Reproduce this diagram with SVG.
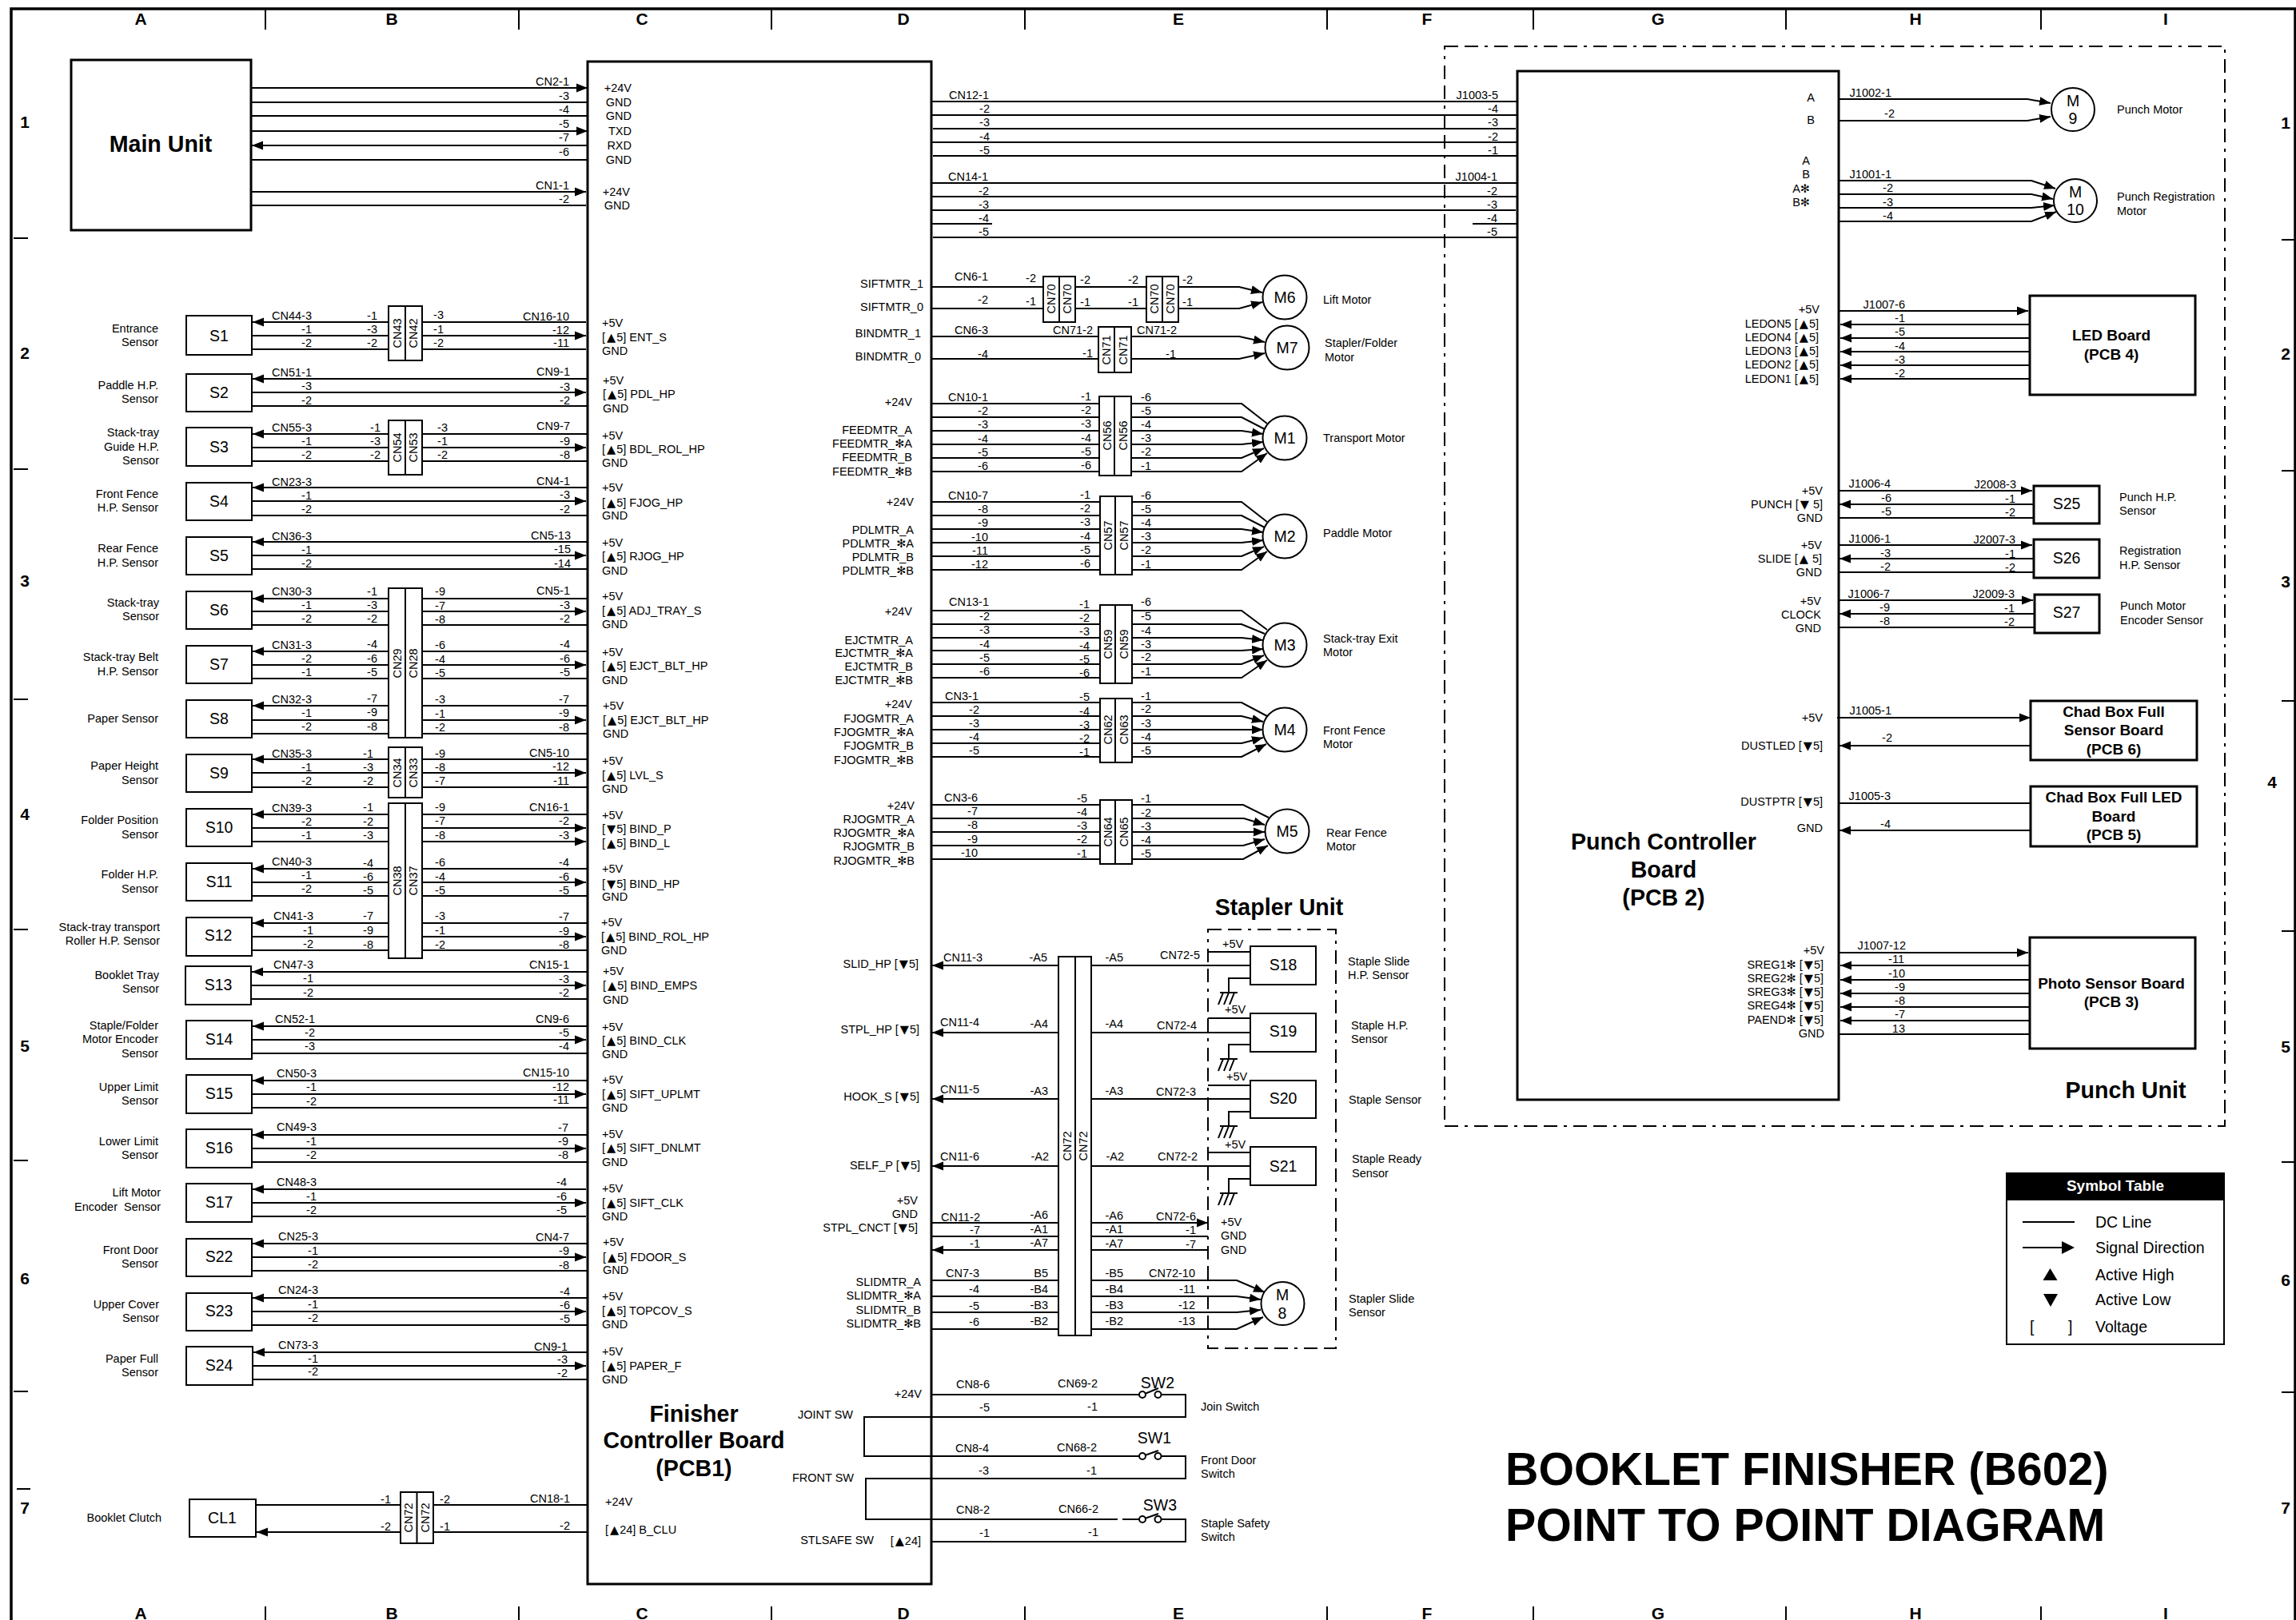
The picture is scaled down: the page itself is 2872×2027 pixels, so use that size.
<svg xmlns="http://www.w3.org/2000/svg" width="2872" height="2027" viewBox="0 0 2872 2027">
<style>
text{font-family:"Liberation Sans","DejaVu Sans",sans-serif;font-size:14.5px;fill:#000}
.e text,text.e{text-anchor:end}
.m,.v{text-anchor:middle}
.s{font-size:19.5px;text-anchor:middle}
.h{font-size:19px;font-weight:bold;text-anchor:middle}
.t{font-size:28.6px;font-weight:bold;text-anchor:middle}
.f{font-size:21px;font-weight:bold;text-anchor:middle}
.y{font-size:57.3px;font-weight:bold}
.l{font-size:19.5px}
.x{font-family:"DejaVu Sans",sans-serif;letter-spacing:1px}
.w,#connectors path{fill:none;stroke:#000;stroke-width:2}
.a{marker-end:url(#a)}
.n{fill:#fff;stroke:#000;stroke-width:2}
.k{fill:#fff;stroke:#000;stroke-width:3}
.p{fill:none;stroke:#000;stroke-width:2}
.d{fill:none;stroke:#000;stroke-width:2;stroke-dasharray:17 8 17 8 4 8}
</style>
<defs>
<marker id="a" markerUnits="userSpaceOnUse" markerWidth="15" markerHeight="12" refX="14" refY="6" orient="auto" viewBox="0 0 15 12"><path d="M0 0.5L14 6L0 11.5Z"/></marker>
<path id="gnd" class="w" d="M0 0H-27V18M-38 18H-16M-27 18L-33 33M-20 18L-26 33M-34 18L-40 33"/>
</defs>
<rect width="2872" height="2027" fill="#fff"/>
<g id="frame">
<path fill="none" stroke="#000" stroke-width="3.5" d="M14 2027V11H2871V2027"/>
<path fill="none" stroke="#000" stroke-width="2" d="M332 11V37M649 11V37M965 11V37M1282 11V37M1660 11V37M1918 11V37M2234 11V37M2553 11V37M332 2010V2027M649 2010V2027M965 2010V2027M1282 2010V2027M1660 2010V2027M1918 2010V2027M2234 2010V2027M2553 2010V2027M17 298H35M17 587H35M17 875H35M17 1163H35M17 1452H35M17 1741H35M21 1863H38M2854 300H2871M2854 589H2871M2854 877H2871M2854 1165H2871M2854 1454H2871M2854 1742H2871"/>
<text class="f" x="176" y="31">A</text><text class="f" x="490" y="31">B</text><text class="f" x="803" y="31">C</text><text class="f" x="1130" y="31">D</text><text class="f" x="1474" y="31">E</text><text class="f" x="1785" y="31">F</text><text class="f" x="2074" y="31">G</text><text class="f" x="2396" y="31">H</text><text class="f" x="2709" y="31">I</text>
<text class="f" x="176" y="2026">A</text><text class="f" x="490" y="2026">B</text><text class="f" x="803" y="2026">C</text><text class="f" x="1130" y="2026">D</text><text class="f" x="1474" y="2026">E</text><text class="f" x="1785" y="2026">F</text><text class="f" x="2074" y="2026">G</text><text class="f" x="2396" y="2026">H</text><text class="f" x="2709" y="2026">I</text>
<text class="f" x="31" y="160">1</text><text class="f" x="31" y="449">2</text><text class="f" x="31" y="734">3</text><text class="f" x="31" y="1026">4</text><text class="f" x="31" y="1316">5</text><text class="f" x="31" y="1607">6</text><text class="f" x="31" y="1894">7</text>
<text class="f" x="2859" y="161">1</text><text class="f" x="2859" y="450">2</text><text class="f" x="2859" y="735">3</text><text class="f" x="2842" y="986">4</text><text class="f" x="2859" y="1317">5</text><text class="f" x="2859" y="1609">6</text><text class="f" x="2859" y="1894">7</text>
</g>
<g id="connectors">
<path class="a" d="M315 110H735"/><path d="M315 128H735"/><path d="M315 145H735"/><path class="a" d="M315 164H735"/><path class="a" d="M735 182H315"/><path d="M315 200H735"/><path class="a" d="M315 240H733"/><path d="M315 257H733"/>
<path class="a" d="M733 403H316"/><path class="a" d="M316 420H733"/><path d="M316 437H733"/>
<path class="a" d="M735 474H316"/><path class="a" d="M316 491H733"/><path d="M316 508H735"/>
<path class="a" d="M735 543H316"/><path class="a" d="M316 560H733"/><path d="M316 577H735"/>
<path class="a" d="M735 610H316"/><path class="a" d="M316 627H733"/><path d="M316 645H735"/>
<path class="a" d="M735 678H316"/><path class="a" d="M316 695H733"/><path d="M316 712H735"/>
<path class="a" d="M735 749H316"/><path class="a" d="M316 765H733"/><path d="M316 782H735"/>
<path class="a" d="M735 815H316"/><path class="a" d="M316 832H733"/><path d="M316 849H735"/>
<path class="a" d="M735 883H316"/><path class="a" d="M316 901H733"/><path d="M316 918H735"/>
<path class="a" d="M735 950H316"/><path class="a" d="M316 967H733"/><path d="M316 985H735"/>
<path class="a" d="M735 1019H316"/><path class="a" d="M316 1036H733"/><path class="a" d="M316 1053H733"/>
<path class="a" d="M735 1087H316"/><path class="a" d="M316 1104H733"/><path d="M316 1121H735"/>
<path class="a" d="M735 1155H316"/><path class="a" d="M316 1172H733"/><path d="M316 1189H735"/>
<path class="a" d="M735 1216H315"/><path class="a" d="M315 1233H733"/><path d="M315 1250H735"/>
<path class="a" d="M735 1284H316"/><path class="a" d="M316 1301H733"/><path d="M316 1318H735"/>
<path class="a" d="M735 1352H316"/><path class="a" d="M316 1369H733"/><path d="M316 1386H735"/>
<path class="a" d="M735 1420H316"/><path class="a" d="M316 1437H733"/><path d="M316 1454H735"/>
<path class="a" d="M733 1488H316"/><path class="a" d="M316 1505H733"/><path d="M316 1522H733"/>
<path class="a" d="M735 1556H316"/><path class="a" d="M316 1573H733"/><path d="M316 1590H735"/>
<path class="a" d="M735 1624H316"/><path class="a" d="M316 1641H733"/><path d="M316 1658H735"/>
<path class="a" d="M735 1692H317"/><path class="a" d="M317 1709H733"/><path d="M317 1726H735"/>
<path d="M320 1883H735"/><path class="a" d="M735 1917H321"/>
<path d="M1165 127H1898M1165 144H1898M1167 161H1896M1165 178H1898M1167 195H1898"/>
<path d="M1165 229H1898M1165 246H1898M1165 263H1896M1165 280H1241M1842 280H1898M1167 297H1898"/>
<path class="a" d="M1165 359H1550L1579 366"/><path class="a" d="M1165 386H1550L1579 378"/>
<path class="a" d="M1165 421H1550L1582 428"/><path class="a" d="M1165 449H1550L1582 442"/>
<path d="M1165 505H1553L1585 530"/><path d="M1165 522H1553L1582 537"/><path class="a" d="M1165 539H1553L1580 543"/><path class="a" d="M1165 556H1553L1580 553"/><path class="a" d="M1165 573H1553L1581 561"/><path class="a" d="M1165 590H1553L1585 567"/>
<path d="M1165 628H1553L1585 653"/><path d="M1165 645H1553L1582 660"/><path class="a" d="M1165 662H1553L1580 666"/><path class="a" d="M1165 679H1553L1580 676"/><path class="a" d="M1165 696H1553L1581 684"/><path class="a" d="M1165 713H1553L1585 690"/>
<path d="M1165 764H1553L1585 788"/><path d="M1165 781H1553L1582 793"/><path class="a" d="M1165 798H1553L1580 801"/><path class="a" d="M1165 814H1553L1580 812"/><path class="a" d="M1165 831H1553L1581 820"/><path class="a" d="M1165 848H1553L1585 826"/>
<path d="M1165 879H1553L1585 896"/><path class="a" d="M1165 896H1553L1580 903"/><path class="a" d="M1165 913H1580"/><path class="a" d="M1165 930H1553L1580 923"/><path class="a" d="M1165 947H1553L1584 931"/>
<path d="M1165 1007H1555L1587 1023"/><path class="a" d="M1165 1024H1556L1582 1032"/><path class="a" d="M1165 1041H1582"/><path class="a" d="M1165 1058H1555L1582 1050"/><path class="a" d="M1165 1075H1555L1586 1058"/>
<path class="a" d="M1564 1208H1166"/><path class="a" d="M1564 1292H1166"/><path class="a" d="M1564 1375H1166"/><path class="a" d="M1564 1459H1166"/>
<path d="M1511 1191H1564M1511 1274H1564M1511 1358H1564M1511 1442H1564"/>
<path class="a" d="M1165 1530H1511"/><path d="M1165 1547H1511"/><path class="a" d="M1511 1564H1166"/>
<path class="a" d="M1165 1602H1547L1582 1617"/><path class="a" d="M1165 1622H1547L1577 1626"/><path class="a" d="M1165 1642H1547L1577 1639"/><path class="a" d="M1165 1663H1547L1580 1648"/>
<use href="#gnd" x="1564" y="1224"/><use href="#gnd" x="1564" y="1307"/><use href="#gnd" x="1564" y="1391"/><use href="#gnd" x="1564" y="1475"/>
<path d="M1165 1745H1425M1453 1745H1483V1773H1165"/><path d="M1165 1773H1081V1822H1165"/>
<path d="M1165 1822H1425M1453 1822H1483V1850H1165"/><path d="M1165 1850H1083V1901H1165"/>
<path d="M1165 1901H1398M1404 1901H1425M1453 1901H1483V1929H1165"/>
<path class="a" d="M2300 124H2536L2565 129"/><path class="a" d="M2300 151H2536L2565 146"/>
<path class="a" d="M2300 226H2541L2571 236"/><path class="a" d="M2300 243H2541L2568 249"/><path class="a" d="M2300 260H2541L2570 257"/><path class="a" d="M2300 277H2541L2572 265"/>
<path class="a" d="M2300 389H2537"/><path class="a" d="M2539 406H2302"/><path class="a" d="M2539 423H2302"/><path class="a" d="M2539 440H2302"/><path class="a" d="M2539 457H2302"/><path class="a" d="M2539 474H2302"/>
<path class="a" d="M2300 614H2542"/><path class="a" d="M2544 631H2301"/><path d="M2300 648H2544"/>
<path class="a" d="M2300 682H2542"/><path class="a" d="M2544 699H2301"/><path d="M2300 716H2544"/>
<path class="a" d="M2300 751H2543"/><path class="a" d="M2545 768H2301"/><path d="M2300 785H2545"/>
<path class="a" d="M2298 898H2540"/><path class="a" d="M2540 933H2301"/>
<path d="M2300 1005H2540"/><path class="a" d="M2540 1039H2301"/>
<path class="a" d="M2300 1192H2537"/><path class="a" d="M2539 1208H2302"/><path class="a" d="M2539 1226H2302"/><path class="a" d="M2539 1243H2302"/><path class="a" d="M2539 1260H2302"/><path class="a" d="M2539 1277H2302"/><path d="M2300 1294H2539"/>
</g>
<g id="wire-labels" class="e">
<text x="712" y="107">CN2-1</text><text x="712" y="125">-3</text><text x="712" y="142">-4</text><text x="712" y="160">-5</text><text x="712" y="177">-7</text><text x="712" y="195">-6</text><text x="712" y="237">CN1-1</text><text x="712" y="254">-2</text>
<text x="390" y="400">CN44-3</text><text x="390" y="417">-1</text><text x="390" y="434">-2</text><text x="472" y="400">-1</text><text x="472" y="417">-3</text><text x="472" y="434">-2</text><text x="555" y="399">-3</text><text x="555" y="417">-1</text><text x="555" y="434">-2</text><text x="712" y="401">CN16-10</text><text x="712" y="418">-12</text><text x="712" y="434">-11</text>
<text x="390" y="471">CN51-1</text><text x="390" y="488">-3</text><text x="390" y="506">-2</text><text x="713" y="470">CN9-1</text><text x="713" y="489">-3</text><text x="713" y="506">-2</text>
<text x="390" y="540">CN55-3</text><text x="390" y="557">-1</text><text x="390" y="574">-2</text><text x="476" y="540">-1</text><text x="476" y="557">-3</text><text x="476" y="574">-2</text><text x="560" y="540">-3</text><text x="560" y="557">-1</text><text x="560" y="574">-2</text><text x="713" y="538">CN9-7</text><text x="713" y="557">-9</text><text x="713" y="574">-8</text>
<text x="390" y="608">CN23-3</text><text x="390" y="625">-1</text><text x="390" y="642">-2</text><text x="713" y="607">CN4-1</text><text x="713" y="624">-3</text><text x="713" y="642">-2</text>
<text x="390" y="676">CN36-3</text><text x="390" y="693">-1</text><text x="390" y="710">-2</text><text x="714" y="675">CN5-13</text><text x="714" y="692">-15</text><text x="714" y="710">-14</text>
<text x="390" y="745">CN30-3</text><text x="390" y="762">-1</text><text x="390" y="779">-2</text><text x="472" y="745">-1</text><text x="472" y="762">-3</text><text x="472" y="779">-2</text><text x="557" y="745">-9</text><text x="557" y="763">-7</text><text x="557" y="780">-8</text><text x="713" y="744">CN5-1</text><text x="713" y="762">-3</text><text x="713" y="779">-2</text>
<text x="390" y="812">CN31-3</text><text x="390" y="829">-2</text><text x="390" y="846">-1</text><text x="472" y="811">-4</text><text x="472" y="829">-6</text><text x="472" y="846">-5</text><text x="557" y="812">-6</text><text x="557" y="830">-4</text><text x="557" y="847">-5</text><text x="713" y="811">-4</text><text x="713" y="829">-6</text><text x="713" y="846">-5</text>
<text x="390" y="880">CN32-3</text><text x="390" y="897">-1</text><text x="390" y="914">-2</text><text x="472" y="879">-7</text><text x="472" y="896">-9</text><text x="472" y="914">-8</text><text x="557" y="880">-3</text><text x="557" y="898">-1</text><text x="557" y="915">-2</text><text x="712" y="880">-7</text><text x="712" y="897">-9</text><text x="712" y="915">-8</text>
<text x="390" y="948">CN35-3</text><text x="390" y="965">-1</text><text x="390" y="982">-2</text><text x="467" y="948">-1</text><text x="467" y="965">-3</text><text x="467" y="982">-2</text><text x="557" y="948">-9</text><text x="557" y="965">-8</text><text x="557" y="982">-7</text><text x="712" y="947">CN5-10</text><text x="712" y="964">-12</text><text x="712" y="982">-11</text>
<text x="390" y="1016">CN39-3</text><text x="390" y="1033">-2</text><text x="390" y="1050">-1</text><text x="467" y="1015">-1</text><text x="467" y="1033">-2</text><text x="467" y="1050">-3</text><text x="557" y="1015">-9</text><text x="557" y="1032">-7</text><text x="557" y="1050">-8</text><text x="712" y="1015">CN16-1</text><text x="712" y="1032">-2</text><text x="712" y="1050">-3</text>
<text x="390" y="1083">CN40-3</text><text x="390" y="1100">-1</text><text x="390" y="1117">-2</text><text x="467" y="1085">-4</text><text x="467" y="1102">-6</text><text x="467" y="1119">-5</text><text x="557" y="1084">-6</text><text x="557" y="1102">-4</text><text x="557" y="1119">-5</text><text x="712" y="1084">-4</text><text x="712" y="1102">-6</text><text x="712" y="1119">-5</text>
<text x="392" y="1151">CN41-3</text><text x="392" y="1169">-1</text><text x="392" y="1186">-2</text><text x="467" y="1151">-7</text><text x="467" y="1169">-9</text><text x="467" y="1187">-8</text><text x="557" y="1151">-3</text><text x="557" y="1169">-1</text><text x="557" y="1187">-2</text><text x="712" y="1152">-7</text><text x="712" y="1170">-9</text><text x="712" y="1187">-8</text>
<text x="392" y="1212">CN47-3</text><text x="392" y="1229">-1</text><text x="392" y="1247">-2</text><text x="712" y="1212">CN15-1</text><text x="712" y="1230">-3</text><text x="712" y="1247">-2</text>
<text x="394" y="1280">CN52-1</text><text x="394" y="1297">-2</text><text x="394" y="1314">-3</text><text x="712" y="1280">CN9-6</text><text x="712" y="1297">-5</text><text x="712" y="1314">-4</text>
<text x="396" y="1348">CN50-3</text><text x="396" y="1365">-1</text><text x="396" y="1383">-2</text><text x="712" y="1347">CN15-10</text><text x="712" y="1365">-12</text><text x="712" y="1381">-11</text>
<text x="396" y="1415">CN49-3</text><text x="396" y="1433">-1</text><text x="396" y="1450">-2</text><text x="711" y="1416">-7</text><text x="711" y="1433">-9</text><text x="711" y="1450">-8</text>
<text x="396" y="1484">CN48-3</text><text x="396" y="1502">-1</text><text x="396" y="1519">-2</text><text x="709" y="1484">-4</text><text x="709" y="1502">-6</text><text x="709" y="1519">-5</text>
<text x="398" y="1552">CN25-3</text><text x="398" y="1570">-1</text><text x="398" y="1587">-2</text><text x="712" y="1553">CN4-7</text><text x="712" y="1570">-9</text><text x="712" y="1588">-8</text>
<text x="398" y="1619">CN24-3</text><text x="398" y="1637">-1</text><text x="398" y="1654">-2</text><text x="713" y="1621">-4</text><text x="713" y="1638">-6</text><text x="713" y="1655">-5</text>
<text x="398" y="1688">CN73-3</text><text x="398" y="1705">-1</text><text x="398" y="1721">-2</text><text x="710" y="1690">CN9-1</text><text x="710" y="1706">-3</text><text x="710" y="1723">-2</text>
<text x="489" y="1881">-1</text><text x="489" y="1915">-2</text><text x="563" y="1881">-2</text><text x="563" y="1915">-1</text><text x="713" y="1880">CN18-1</text><text x="713" y="1914">-2</text>
<text x="1237" y="124">CN12-1</text><text x="1238" y="141">-2</text><text x="1238" y="158">-3</text><text x="1238" y="176">-4</text><text x="1238" y="193">-5</text><text x="1874" y="124">J1003-5</text><text x="1874" y="141">-4</text><text x="1874" y="158">-3</text><text x="1874" y="176">-2</text><text x="1874" y="193">-1</text>
<text x="1236" y="226">CN14-1</text><text x="1237" y="244">-2</text><text x="1237" y="261">-3</text><text x="1237" y="278">-4</text><text x="1237" y="295">-5</text><text x="1873" y="226">J1004-1</text><text x="1873" y="244">-2</text><text x="1873" y="261">-3</text><text x="1873" y="278">-4</text><text x="1873" y="295">-5</text>
<text x="1236" y="351">CN6-1</text><text x="1236" y="380">-2</text><text x="1296" y="353">-2</text><text x="1296" y="382">-1</text><text x="1364" y="355">-2</text><text x="1364" y="383">-1</text><text x="1424" y="355">-2</text><text x="1424" y="383">-1</text><text x="1492" y="355">-2</text><text x="1492" y="383">-1</text>
<text x="1236" y="418">CN6-3</text><text x="1236" y="448">-4</text><text x="1367" y="418">CN71-2</text><text x="1367" y="447">-1</text><text x="1472" y="418">CN71-2</text><text x="1471" y="448">-1</text>
<text x="1236" y="502">CN10-1</text><text x="1236" y="519">-2</text><text x="1236" y="536">-3</text><text x="1236" y="554">-4</text><text x="1236" y="571">-5</text><text x="1236" y="588">-6</text><text x="1365" y="501">-1</text><text x="1365" y="518">-2</text><text x="1365" y="535">-3</text><text x="1365" y="553">-4</text><text x="1365" y="570">-5</text><text x="1365" y="587">-6</text><text x="1440" y="502">-6</text><text x="1440" y="519">-5</text><text x="1440" y="536">-4</text><text x="1440" y="553">-3</text><text x="1440" y="570">-2</text><text x="1440" y="588">-1</text>
<text x="1236" y="625">CN10-7</text><text x="1236" y="642">-8</text><text x="1236" y="659">-9</text><text x="1236" y="677">-10</text><text x="1236" y="694">-11</text><text x="1236" y="711">-12</text><text x="1364" y="624">-1</text><text x="1364" y="641">-2</text><text x="1364" y="658">-3</text><text x="1364" y="676">-4</text><text x="1364" y="693">-5</text><text x="1364" y="710">-6</text><text x="1440" y="625">-6</text><text x="1440" y="642">-5</text><text x="1440" y="659">-4</text><text x="1440" y="676">-3</text><text x="1440" y="693">-2</text><text x="1440" y="711">-1</text>
<text x="1237" y="758">CN13-1</text><text x="1238" y="776">-2</text><text x="1238" y="793">-3</text><text x="1238" y="811">-4</text><text x="1238" y="828">-5</text><text x="1238" y="845">-6</text><text x="1363" y="761">-1</text><text x="1363" y="778">-2</text><text x="1363" y="795">-3</text><text x="1363" y="813">-4</text><text x="1363" y="830">-5</text><text x="1363" y="847">-6</text><text x="1440" y="758">-6</text><text x="1440" y="776">-5</text><text x="1440" y="794">-4</text><text x="1440" y="811">-3</text><text x="1440" y="827">-2</text><text x="1440" y="845">-1</text>
<text x="1224" y="876">CN3-1</text><text x="1225" y="893">-2</text><text x="1225" y="910">-3</text><text x="1225" y="927">-4</text><text x="1225" y="944">-5</text><text x="1363" y="877">-5</text><text x="1363" y="895">-4</text><text x="1363" y="912">-3</text><text x="1363" y="929">-2</text><text x="1363" y="946">-1</text><text x="1440" y="876">-1</text><text x="1440" y="892">-2</text><text x="1440" y="910">-3</text><text x="1440" y="927">-4</text><text x="1440" y="944">-5</text>
<text x="1223" y="1003">CN3-6</text><text x="1223" y="1020">-7</text><text x="1223" y="1037">-8</text><text x="1223" y="1055">-9</text><text x="1223" y="1072">-10</text><text x="1360" y="1004">-5</text><text x="1360" y="1021">-4</text><text x="1360" y="1038">-3</text><text x="1360" y="1055">-2</text><text x="1360" y="1073">-1</text><text x="1440" y="1004">-1</text><text x="1440" y="1022">-2</text><text x="1440" y="1039">-3</text><text x="1440" y="1056">-4</text><text x="1440" y="1073">-5</text>
<text x="1229" y="1203">CN11-3</text><text x="1225" y="1284">CN11-4</text><text x="1225" y="1368">CN11-5</text><text x="1225" y="1452">CN11-6</text><text x="1226" y="1528">CN11-2</text><text x="1226" y="1544">-7</text><text x="1226" y="1561">-1</text><text x="1225" y="1598">CN7-3</text><text x="1225" y="1618">-4</text><text x="1225" y="1639">-5</text><text x="1225" y="1659">-6</text>
<text x="1310" y="1203">-A5</text><text x="1311" y="1286">-A4</text><text x="1311" y="1370">-A3</text><text x="1312" y="1452">-A2</text><text x="1311" y="1525">-A6</text><text x="1311" y="1543">-A1</text><text x="1311" y="1560">-A7</text><text x="1311" y="1598">B5</text><text x="1311" y="1618">-B4</text><text x="1311" y="1638">-B3</text><text x="1311" y="1658">-B2</text>
<text x="1405" y="1203">-A5</text><text x="1405" y="1286">-A4</text><text x="1405" y="1370">-A3</text><text x="1406" y="1452">-A2</text><text x="1405" y="1526">-A6</text><text x="1405" y="1543">-A1</text><text x="1405" y="1561">-A7</text><text x="1405" y="1598">-B5</text><text x="1405" y="1618">-B4</text><text x="1405" y="1638">-B3</text><text x="1405" y="1658">-B2</text>
<text x="1501" y="1200">CN72-5</text><text x="1497" y="1288">CN72-4</text><text x="1496" y="1371">CN72-3</text><text x="1498" y="1452">CN72-2</text><text x="1496" y="1527">CN72-6</text><text x="1496" y="1544">-1</text><text x="1496" y="1562">-7</text><text x="1495" y="1598">CN72-10</text><text x="1495" y="1618">-11</text><text x="1495" y="1638">-12</text><text x="1495" y="1658">-13</text>
<text x="1238" y="1737">CN8-6</text><text x="1238" y="1766">-5</text><text x="1373" y="1736">CN69-2</text><text x="1373" y="1765">-1</text><text x="1237" y="1817">CN8-4</text><text x="1237" y="1845">-3</text><text x="1372" y="1816">CN68-2</text><text x="1372" y="1845">-1</text><text x="1238" y="1894">CN8-2</text><text x="1238" y="1923">-1</text><text x="1374" y="1893">CN66-2</text><text x="1374" y="1922">-1</text>
<text x="2366" y="121">J1002-1</text><text x="2370" y="147">-2</text><text x="2366" y="223">J1001-1</text><text x="2368" y="240">-2</text><text x="2368" y="258">-3</text><text x="2368" y="275">-4</text>
<text x="2383" y="386">J1007-6</text><text x="2383" y="403">-1</text><text x="2383" y="420">-5</text><text x="2383" y="438">-4</text><text x="2383" y="455">-3</text><text x="2383" y="472">-2</text>
<text x="2365" y="610">J1006-4</text><text x="2366" y="628">-6</text><text x="2366" y="645">-5</text><text x="2522" y="611">J2008-3</text><text x="2521" y="629">-1</text><text x="2521" y="646">-2</text>
<text x="2365" y="679">J1006-1</text><text x="2365" y="697">-3</text><text x="2365" y="714">-2</text><text x="2521" y="680">J2007-3</text><text x="2521" y="698">-1</text><text x="2521" y="715">-2</text>
<text x="2364" y="748">J1006-7</text><text x="2364" y="765">-9</text><text x="2364" y="782">-8</text><text x="2520" y="748">J2009-3</text><text x="2520" y="766">-1</text><text x="2520" y="783">-2</text>
<text x="2366" y="894">J1005-1</text><text x="2367" y="928">-2</text><text x="2365" y="1001">J1005-3</text><text x="2365" y="1036">-4</text>
<text x="2384" y="1188">J1007-12</text><text x="2382" y="1205">-11</text><text x="2383" y="1223">-10</text><text x="2383" y="1240">-9</text><text x="2383" y="1257">-8</text><text x="2383" y="1274">-7</text><text x="2383" y="1292">13</text>
</g>
<g id="MainUnit"><rect class="k" x="89" y="75" width="225" height="213"/><text class="t" x="201" y="190">Main Unit</text></g>
<g id="FinisherBoard"><rect class="p" style="stroke-width:3" x="735" y="77" width="430" height="1905"/>
<g class="e"><text x="790" y="115">+24V</text><text x="790" y="133">GND</text><text x="790" y="150">GND</text><text x="790" y="169">TXD</text><text x="790" y="187">RXD</text><text x="790" y="205">GND</text><text x="788" y="245">+24V</text><text x="788" y="262">GND</text></g>
<text x="753" y="409">+5V</text><text x="753" y="427">[<tspan class="x" dx="2">▲</tspan>5] ENT_S</text><text x="753" y="444">GND</text>
<text x="754" y="481">+5V</text><text x="754" y="498">[<tspan class="x" dx="2">▲</tspan>5] PDL_HP</text><text x="754" y="516">GND</text>
<text x="753" y="550">+5V</text><text x="753" y="567">[<tspan class="x" dx="2">▲</tspan>5] BDL_ROL_HP</text><text x="753" y="584">GND</text>
<text x="753" y="615">+5V</text><text x="753" y="634">[<tspan class="x" dx="2">▲</tspan>5] FJOG_HP</text><text x="753" y="650">GND</text>
<text x="753" y="684">+5V</text><text x="753" y="701">[<tspan class="x" dx="2">▲</tspan>5] RJOG_HP</text><text x="753" y="719">GND</text>
<text x="753" y="751">+5V</text><text x="753" y="769">[<tspan class="x" dx="2">▲</tspan>5] ADJ_TRAY_S</text><text x="753" y="786">GND</text>
<text x="753" y="821">+5V</text><text x="753" y="838">[<tspan class="x" dx="2">▲</tspan>5] EJCT_BLT_HP</text><text x="753" y="856">GND</text>
<text x="754" y="888">+5V</text><text x="754" y="906">[<tspan class="x" dx="2">▲</tspan>5] EJCT_BLT_HP</text><text x="754" y="923">GND</text>
<text x="753" y="957">+5V</text><text x="753" y="975">[<tspan class="x" dx="2">▲</tspan>5] LVL_S</text><text x="753" y="992">GND</text>
<text x="753" y="1025">+5V</text><text x="753" y="1042">[<tspan class="x" dx="2">▼</tspan>5] BIND_P</text><text x="753" y="1060">[<tspan class="x" dx="2">▲</tspan>5] BIND_L</text>
<text x="753" y="1092">+5V</text><text x="753" y="1111">[<tspan class="x" dx="2">▼</tspan>5] BIND_HP</text><text x="753" y="1127">GND</text>
<text x="752" y="1159">+5V</text><text x="752" y="1177">[<tspan class="x" dx="2">▲</tspan>5] BIND_ROL_HP</text><text x="752" y="1194">GND</text>
<text x="754" y="1220">+5V</text><text x="754" y="1238">[<tspan class="x" dx="2">▲</tspan>5] BIND_EMPS</text><text x="754" y="1256">GND</text>
<text x="753" y="1290">+5V</text><text x="753" y="1307">[<tspan class="x" dx="2">▲</tspan>5] BIND_CLK</text><text x="753" y="1324">GND</text>
<text x="753" y="1356">+5V</text><text x="753" y="1374">[<tspan class="x" dx="2">▲</tspan>5] SIFT_UPLMT</text><text x="753" y="1391">GND</text>
<text x="753" y="1424">+5V</text><text x="753" y="1441">[<tspan class="x" dx="2">▲</tspan>5] SIFT_DNLMT</text><text x="753" y="1459">GND</text>
<text x="753" y="1492">+5V</text><text x="753" y="1510">[<tspan class="x" dx="2">▲</tspan>5] SIFT_CLK</text><text x="753" y="1527">GND</text>
<text x="754" y="1559">+5V</text><text x="754" y="1578">[<tspan class="x" dx="2">▲</tspan>5] FDOOR_S</text><text x="754" y="1594">GND</text>
<text x="753" y="1627">+5V</text><text x="753" y="1645">[<tspan class="x" dx="2">▲</tspan>5] TOPCOV_S</text><text x="753" y="1662">GND</text>
<text x="753" y="1696">+5V</text><text x="753" y="1714">[<tspan class="x" dx="2">▲</tspan>5] PAPER_F</text><text x="753" y="1731">GND</text>
<text x="757" y="1884">+24V</text><text x="757" y="1919">[<tspan class="x" dx="2">▲</tspan>24] B_CLU</text>
<g class="e">
<text x="1155" y="360">SIFTMTR_1</text><text x="1155" y="389">SIFTMTR_0</text><text x="1152" y="422">BINDMTR_1</text><text x="1152" y="451">BINDMTR_0</text>
<text x="1141" y="508">+24V</text><text x="1141" y="543">FEEDMTR_A</text><text x="1141" y="560">FEEDMTR_✻A</text><text x="1141" y="577">FEEDMTR_B</text><text x="1141" y="595">FEEDMTR_✻B</text>
<text x="1143" y="633">+24V</text><text x="1143" y="668">PDLMTR_A</text><text x="1143" y="685">PDLMTR_✻A</text><text x="1143" y="702">PDLMTR_B</text><text x="1143" y="719">PDLMTR_✻B</text>
<text x="1141" y="770">+24V</text><text x="1142" y="806">EJCTMTR_A</text><text x="1142" y="822">EJCTMTR_✻A</text><text x="1142" y="839">EJCTMTR_B</text><text x="1142" y="856">EJCTMTR_✻B</text>
<text x="1141" y="886">+24V</text><text x="1143" y="904">FJOGMTR_A</text><text x="1143" y="921">FJOGMTR_✻A</text><text x="1143" y="938">FJOGMTR_B</text><text x="1143" y="956">FJOGMTR_✻B</text>
<text x="1144" y="1013">+24V</text><text x="1144" y="1030">RJOGMTR_A</text><text x="1144" y="1047">RJOGMTR_✻A</text><text x="1144" y="1064">RJOGMTR_B</text><text x="1144" y="1082">RJOGMTR_✻B</text>
<text x="1149" y="1211">SLID_HP [<tspan class="x" dx="2">▼</tspan>5]</text><text x="1150" y="1293">STPL_HP [<tspan class="x" dx="2">▼</tspan>5]</text><text x="1150" y="1377">HOOK_S [<tspan class="x" dx="2">▼</tspan>5]</text><text x="1151" y="1463">SELF_P [<tspan class="x" dx="2">▼</tspan>5]</text>
<text x="1148" y="1507">+5V</text><text x="1148" y="1524">GND</text><text x="1148" y="1541">STPL_CNCT [<tspan class="x" dx="2">▼</tspan>5]</text>
<text x="1152" y="1609">SLIDMTR_A</text><text x="1152" y="1626">SLIDMTR_✻A</text><text x="1152" y="1644">SLIDMTR_B</text><text x="1152" y="1661">SLIDMTR_✻B</text>
<text x="1153" y="1749">+24V</text><text x="1067" y="1775">JOINT SW</text><text x="1068" y="1854">FRONT SW</text><text x="1093" y="1932">STLSAFE SW</text><text x="1152" y="1933">[<tspan class="x" dx="2">▲</tspan>24]</text>
</g>
<text class="t" x="868" y="1779">Finisher</text><text class="t" x="868" y="1812">Controller Board</text><text class="t" x="868" y="1847">(PCB1)</text>
</g>
<g id="PunchBoard"><rect class="p" style="stroke-width:3" x="1898" y="89" width="402" height="1287"/>
<g class="e">
<text x="2270" y="127">A</text><text x="2270" y="155">B</text><text x="2264" y="206">A</text><text x="2264" y="223">B</text><text x="2264" y="241">A✻</text><text x="2264" y="258">B✻</text>
<text x="2276" y="392">+5V</text><text x="2275" y="410">LEDON5 [<tspan class="x" dx="2">▲</tspan>5]</text><text x="2275" y="427">LEDON4 [<tspan class="x" dx="2">▲</tspan>5]</text><text x="2275" y="444">LEDON3 [<tspan class="x" dx="2">▲</tspan>5]</text><text x="2275" y="461">LEDON2 [<tspan class="x" dx="2">▲</tspan>5]</text><text x="2275" y="479">LEDON1 [<tspan class="x" dx="2">▲</tspan>5]</text>
<text x="2280" y="619">+5V</text><text x="2280" y="636">PUNCH [<tspan class="x" dx="2">▼</tspan> 5]</text><text x="2280" y="653">GND</text>
<text x="2279" y="687">+5V</text><text x="2279" y="704">SLIDE [<tspan class="x" dx="2">▲</tspan> 5]</text><text x="2279" y="721">GND</text>
<text x="2278" y="757">+5V</text><text x="2278" y="774">CLOCK</text><text x="2278" y="791">GND</text>
<text x="2280" y="903">+5V</text><text x="2280" y="938">DUSTLED [<tspan class="x" dx="2">▼</tspan>5]</text><text x="2280" y="1008">DUSTPTR [<tspan class="x" dx="2">▼</tspan>5]</text><text x="2280" y="1041">GND</text>
<text x="2282" y="1194">+5V</text><text x="2281" y="1212">SREG1✻ [<tspan class="x" dx="2">▼</tspan>5]</text><text x="2281" y="1229">SREG2✻ [<tspan class="x" dx="2">▼</tspan>5]</text><text x="2281" y="1246">SREG3✻ [<tspan class="x" dx="2">▼</tspan>5]</text><text x="2281" y="1263">SREG4✻ [<tspan class="x" dx="2">▼</tspan>5]</text><text x="2281" y="1281">PAEND✻ [<tspan class="x" dx="2">▼</tspan>5]</text><text x="2282" y="1298">GND</text>
</g>
<text class="t" x="2081" y="1063">Punch Controller</text><text class="t" x="2081" y="1098">Board</text><text class="t" x="2081" y="1133">(PCB 2)</text>
</g>
<g id="S1"><rect class="n" x="233" y="395" width="82" height="49"/><text class="s" x="274" y="427">S1</text><g class="e"><text x="198" y="416">Entrance</text><text x="198" y="433">Sensor</text></g></g>
<g id="S2"><rect class="n" x="233" y="468" width="82" height="47"/><text class="s" x="274" y="498">S2</text><g class="e"><text x="198" y="487">Paddle H.P.</text><text x="198" y="504">Sensor</text></g></g>
<g id="S3"><rect class="n" x="233" y="535" width="82" height="48"/><text class="s" x="274" y="566">S3</text><g class="e"><text x="199" y="546">Stack-tray</text><text x="199" y="564">Guide H.P.</text><text x="199" y="581">Sensor</text></g></g>
<g id="S4"><rect class="n" x="233" y="604" width="82" height="47"/><text class="s" x="274" y="634">S4</text><g class="e"><text x="198" y="623">Front Fence</text><text x="198" y="640">H.P. Sensor</text></g></g>
<g id="S5"><rect class="n" x="233" y="672" width="82" height="47"/><text class="s" x="274" y="702">S5</text><g class="e"><text x="198" y="691">Rear Fence</text><text x="198" y="709">H.P. Sensor</text></g></g>
<g id="S6"><rect class="n" x="233" y="740" width="82" height="47"/><text class="s" x="274" y="770">S6</text><g class="e"><text x="199" y="759">Stack-tray</text><text x="199" y="776">Sensor</text></g></g>
<g id="S7"><rect class="n" x="233" y="808" width="82" height="47"/><text class="s" x="274" y="838">S7</text><g class="e"><text x="198" y="827">Stack-tray Belt</text><text x="198" y="845">H.P. Sensor</text></g></g>
<g id="S8"><rect class="n" x="233" y="876" width="82" height="47"/><text class="s" x="274" y="906">S8</text><text class="e" x="198" y="904">Paper Sensor</text></g>
<g id="S9"><rect class="n" x="233" y="944" width="82" height="47"/><text class="s" x="274" y="974">S9</text><g class="e"><text x="198" y="963">Paper Height</text><text x="198" y="981">Sensor</text></g></g>
<g id="S10"><rect class="n" x="233" y="1012" width="82" height="47"/><text class="s" x="274" y="1042">S10</text><g class="e"><text x="198" y="1031">Folder Position</text><text x="198" y="1049">Sensor</text></g></g>
<g id="S11"><rect class="n" x="233" y="1080" width="82" height="47"/><text class="s" x="274" y="1110">S11</text><g class="e"><text x="198" y="1099">Folder H.P.</text><text x="198" y="1117">Sensor</text></g></g>
<g id="S12"><rect class="n" x="233" y="1148" width="82" height="48"/><text class="s" x="273" y="1177">S12</text><g class="e"><text x="200" y="1165">Stack-tray transport</text><text x="200" y="1182">Roller H.P. Sensor</text></g></g>
<g id="S13"><rect class="n" x="232" y="1209" width="82" height="48"/><text class="s" x="273" y="1239">S13</text><g class="e"><text x="199" y="1225">Booklet Tray</text><text x="199" y="1242">Sensor</text></g></g>
<g id="S14"><rect class="n" x="233" y="1277" width="82" height="48"/><text class="s" x="274" y="1307">S14</text><g class="e"><text x="198" y="1288">Staple/Folder</text><text x="198" y="1305">Motor Encoder</text><text x="198" y="1323">Sensor</text></g></g>
<g id="S15"><rect class="n" x="233" y="1345" width="82" height="48"/><text class="s" x="274" y="1375">S15</text><g class="e"><text x="198" y="1365">Upper Limit</text><text x="198" y="1382">Sensor</text></g></g>
<g id="S16"><rect class="n" x="233" y="1413" width="82" height="48"/><text class="s" x="274" y="1443">S16</text><g class="e"><text x="198" y="1433">Lower Limit</text><text x="198" y="1450">Sensor</text></g></g>
<g id="S17"><rect class="n" x="233" y="1481" width="82" height="48"/><text class="s" x="274" y="1511">S17</text><g class="e"><text x="201" y="1497">Lift Motor</text><text x="201" y="1515" xml:space="preserve">Encoder  Sensor</text></g></g>
<g id="S22"><rect class="n" x="233" y="1550" width="82" height="47"/><text class="s" x="274" y="1579">S22</text><g class="e"><text x="198" y="1569">Front Door</text><text x="198" y="1586">Sensor</text></g></g>
<g id="S23"><rect class="n" x="233" y="1618" width="82" height="47"/><text class="s" x="274" y="1647">S23</text><g class="e"><text x="199" y="1637">Upper Cover</text><text x="199" y="1654">Sensor</text></g></g>
<g id="S24"><rect class="n" x="233" y="1685" width="83" height="48"/><text class="s" x="274" y="1715">S24</text><g class="e"><text x="198" y="1705">Paper Full</text><text x="198" y="1722">Sensor</text></g></g>
<g id="CL1"><rect class="n" x="237" y="1876" width="83" height="47"/><text class="s" x="278" y="1906">CL1</text><text class="e" x="202" y="1904">Booklet Clutch</text></g>
<g id="CN43-42"><rect class="n" x="486" y="383" width="42" height="68"/><path class="p" d="M507 383V451"/><text class="v" transform="translate(501.500 417) rotate(-90)">CN43</text><text class="v" transform="translate(522 417) rotate(-90)">CN42</text></g>
<g id="CN54-53"><rect class="n" x="486" y="526" width="42" height="68"/><path class="p" d="M507 526V594"/><text class="v" transform="translate(501.500 560) rotate(-90)">CN54</text><text class="v" transform="translate(522 560) rotate(-90)">CN53</text></g>
<g id="CN29-28"><rect class="n" x="486" y="736" width="42" height="187"/><path class="p" d="M507 736V923"/><text class="v" transform="translate(501.500 830) rotate(-90)">CN29</text><text class="v" transform="translate(522 830) rotate(-90)">CN28</text></g>
<g id="CN34-33"><rect class="n" x="486" y="935" width="42" height="63"/><path class="p" d="M507 935V998"/><text class="v" transform="translate(501.500 967) rotate(-90)">CN34</text><text class="v" transform="translate(522 967) rotate(-90)">CN33</text></g>
<g id="CN38-37"><rect class="n" x="486" y="1005" width="42" height="194"/><path class="p" d="M507 1005V1199"/><text class="v" transform="translate(501.500 1102) rotate(-90)">CN38</text><text class="v" transform="translate(522 1102) rotate(-90)">CN37</text></g>
<g id="CN72-B"><rect class="n" x="501" y="1867" width="41" height="64"/><path class="p" d="M521.500 1867V1931"/><text class="v" transform="translate(516 1899) rotate(-90)">CN72</text><text class="v" transform="translate(537 1899) rotate(-90)">CN72</text></g>
<g id="CN70-1"><rect class="n" x="1305" y="346" width="40" height="57"/><path class="p" d="M1325 346V403"/><text class="v" transform="translate(1320 374) rotate(-90)">CN70</text><text class="v" transform="translate(1340 374) rotate(-90)">CN70</text></g>
<g id="CN70-2"><rect class="n" x="1434" y="346" width="40" height="57"/><path class="p" d="M1454 346V403"/><text class="v" transform="translate(1449 374) rotate(-90)">CN70</text><text class="v" transform="translate(1469 374) rotate(-90)">CN70</text></g>
<g id="CN71"><rect class="n" x="1374" y="409" width="41" height="57"/><path class="p" d="M1394 409V466"/><text class="v" transform="translate(1389 438) rotate(-90)">CN71</text><text class="v" transform="translate(1410 438) rotate(-90)">CN71</text></g>
<g id="CN56"><rect class="n" x="1375" y="496" width="40" height="99"/><path class="p" d="M1394 496V595"/><text class="v" transform="translate(1390 545) rotate(-90)">CN56</text><text class="v" transform="translate(1410 545) rotate(-90)">CN56</text></g>
<g id="CN57"><rect class="n" x="1376" y="621" width="40" height="98"/><path class="p" d="M1395 621V719"/><text class="v" transform="translate(1391 670) rotate(-90)">CN57</text><text class="v" transform="translate(1411 670) rotate(-90)">CN57</text></g>
<g id="CN59"><rect class="n" x="1376" y="757" width="40" height="98"/><path class="p" d="M1395 757V855"/><text class="v" transform="translate(1391 806) rotate(-90)">CN59</text><text class="v" transform="translate(1411 806) rotate(-90)">CN59</text></g>
<g id="CN62-63"><rect class="n" x="1376" y="874" width="40" height="80"/><path class="p" d="M1395 874V954"/><text class="v" transform="translate(1391 913) rotate(-90)">CN62</text><text class="v" transform="translate(1411 913) rotate(-90)">CN63</text></g>
<g id="CN64-65"><rect class="n" x="1376" y="1001" width="40" height="80"/><path class="p" d="M1395 1001V1081"/><text class="v" transform="translate(1391 1041) rotate(-90)">CN64</text><text class="v" transform="translate(1411 1041) rotate(-90)">CN65</text></g>
<g id="CN72-S"><rect class="n" x="1324" y="1197" width="41" height="474"/><path class="p" d="M1345 1197V1671"/><text class="v" transform="translate(1339.500 1434) rotate(-90)">CN72</text><text class="v" transform="translate(1360 1434) rotate(-90)">CN72</text></g>
<g id="M6"><circle class="n" cx="1607" cy="372" r="27.500"/><text class="s" x="1607" y="379">M6</text><text x="1655" y="380">Lift Motor</text></g>
<g id="M7"><circle class="n" cx="1610" cy="435" r="27.500"/><text class="s" x="1610" y="442">M7</text><text x="1657" y="434">Stapler/Folder</text><text x="1657" y="452">Motor</text></g>
<g id="M1"><circle class="n" cx="1607" cy="548" r="27.500"/><text class="s" x="1607" y="555">M1</text><text x="1655" y="553">Transport Motor</text></g>
<g id="M2"><circle class="n" cx="1607" cy="671" r="27.500"/><text class="s" x="1607" y="678">M2</text><text x="1655" y="672">Paddle Motor</text></g>
<g id="M3"><circle class="n" cx="1607" cy="807" r="27.500"/><text class="s" x="1607" y="814">M3</text><text x="1655" y="804">Stack-tray Exit</text><text x="1655" y="821">Motor</text></g>
<g id="M4"><circle class="n" cx="1607" cy="913" r="27.500"/><text class="s" x="1607" y="920">M4</text><text x="1655" y="919">Front Fence</text><text x="1655" y="936">Motor</text></g>
<g id="M5"><circle class="n" cx="1610" cy="1040" r="27.500"/><text class="s" x="1610" y="1047">M5</text><text x="1659" y="1047">Rear Fence</text><text x="1659" y="1064">Motor</text></g>
<g id="StaplerUnit"><rect class="d" x="1511" y="1163" width="160" height="524"/><text class="t" x="1600" y="1145">Stapler Unit</text><text x="1527" y="1534">+5V</text><text x="1527" y="1551">GND</text><text x="1527" y="1569">GND</text></g>
<g id="S18"><rect class="n" x="1564" y="1184" width="82" height="48"/><text class="s" x="1605" y="1214">S18</text><text x="1529" y="1186">+5V</text><text x="1686" y="1208">Staple Slide</text><text x="1686" y="1225">H.P. Sensor</text></g>
<g id="S19"><rect class="n" x="1564" y="1268" width="82" height="48"/><text class="s" x="1605" y="1297">S19</text><text x="1532" y="1268">+5V</text><text x="1690" y="1288">Staple H.P.</text><text x="1690" y="1305">Sensor</text></g>
<g id="S20"><rect class="n" x="1564" y="1352" width="82" height="47"/><text class="s" x="1605" y="1381">S20</text><text x="1534" y="1352">+5V</text><text x="1687" y="1381">Staple Sensor</text></g>
<g id="S21"><rect class="n" x="1564" y="1435" width="82" height="48"/><text class="s" x="1605" y="1466">S21</text><text x="1532" y="1437">+5V</text><text x="1691" y="1455">Staple Ready</text><text x="1691" y="1473">Sensor</text></g>
<g id="M8"><circle class="n" cx="1604.500" cy="1631" r="27"/><text class="s" x="1604" y="1627">M</text><text class="s" x="1604" y="1650">8</text><text x="1687" y="1630">Stapler Slide</text><text x="1687" y="1647">Sensor</text></g>
<g id="SW2"><circle class="n" cx="1429" cy="1745" r="4"/><circle class="n" cx="1448.500" cy="1745" r="4"/><path class="p" d="M1432 1744L1449 1737"/><text class="s" x="1448" y="1737">SW2</text><text x="1502" y="1765">Join Switch</text></g>
<g id="SW1"><circle class="n" cx="1429" cy="1822" r="4"/><circle class="n" cx="1448.500" cy="1822" r="4"/><path class="p" d="M1432 1821L1449 1815"/><text class="s" x="1444" y="1806">SW1</text><text x="1502" y="1832">Front Door</text><text x="1502" y="1849">Switch</text></g>
<g id="SW3"><circle class="n" cx="1429" cy="1901" r="4"/><circle class="n" cx="1448.500" cy="1901" r="4"/><path class="p" d="M1432 1900L1449 1894"/><text class="s" x="1451" y="1890">SW3</text><text x="1502" y="1911">Staple Safety</text><text x="1502" y="1928">Switch</text></g>
<g id="PunchUnit"><rect class="d" x="1807" y="58" width="976" height="1351"/><text class="t" x="2659" y="1374">Punch Unit</text></g>
<g id="M9"><circle class="n" cx="2593" cy="137" r="27"/><text class="s" x="2593" y="133">M</text><text class="s" x="2593" y="155">9</text><text x="2648" y="142">Punch Motor</text></g>
<g id="M10"><circle class="n" cx="2596" cy="251" r="27"/><text class="s" x="2596" y="247">M</text><text class="s" x="2596" y="269">10</text><text x="2648" y="251">Punch Registration</text><text x="2648" y="269">Motor</text></g>
<g id="PCB4"><rect class="k" x="2539" y="370" width="207" height="124"/><text class="h" x="2641" y="426">LED Board</text><text class="h" x="2641" y="450">(PCB 4)</text></g>
<g id="S25"><rect class="k" x="2544" y="608" width="82" height="47"/><text class="s" x="2585" y="637">S25</text><text x="2651" y="627">Punch H.P.</text><text x="2651" y="644">Sensor</text></g>
<g id="S26"><rect class="k" x="2544" y="675" width="82" height="48"/><text class="s" x="2585" y="705">S26</text><text x="2651" y="694">Registration</text><text x="2651" y="712">H.P. Sensor</text></g>
<g id="S27"><rect class="k" x="2545" y="744" width="81" height="48"/><text class="s" x="2585" y="773">S27</text><text x="2652" y="763">Punch Motor</text><text x="2652" y="781">Encoder Sensor</text></g>
<g id="PCB6"><rect class="k" x="2540" y="877" width="208" height="74"/><text class="h" x="2644" y="897">Chad Box Full</text><text class="h" x="2644" y="920">Sensor Board</text><text class="h" x="2644" y="944">(PCB 6)</text></g>
<g id="PCB5"><rect class="k" x="2540" y="984" width="208" height="75"/><text class="h" x="2644" y="1004">Chad Box Full LED</text><text class="h" x="2644" y="1028">Board</text><text class="h" x="2644" y="1051">(PCB 5)</text></g>
<g id="PCB3"><rect class="k" x="2539" y="1173" width="207" height="139"/><text class="h" x="2641" y="1237">Photo Sensor Board</text><text class="h" x="2641" y="1260">(PCB 3)</text></g>
<g id="SymbolTable"><rect class="n" x="2510" y="1468" width="272" height="214"/><rect x="2510" y="1467" width="272" height="35"/><text class="h" style="fill:#fff" x="2646" y="1490">Symbol Table</text>
<path class="p" d="M2530 1529H2595M2530 1561H2581"/><path d="M2579 1553L2595 1561L2579 1569Z"/>
<path d="M2564.500 1587L2573.500 1602H2555.500Z"/><path d="M2556 1619H2574L2565 1635Z"/>
<text class="l" x="2621" y="1536">DC Line</text><text class="l" x="2621" y="1568">Signal Direction</text><text class="l" x="2621" y="1602">Active High</text><text class="l" x="2621" y="1633">Active Low</text><text class="l" x="2539" y="1667">[</text><text class="l" x="2587" y="1667">]</text><text class="l" x="2621" y="1667">Voltage</text></g>
<g id="title"><text class="y" x="1883" y="1858">BOOKLET FINISHER (B602)</text><text class="y" x="1883" y="1928">POINT TO POINT DIAGRAM</text></g>
</svg>
